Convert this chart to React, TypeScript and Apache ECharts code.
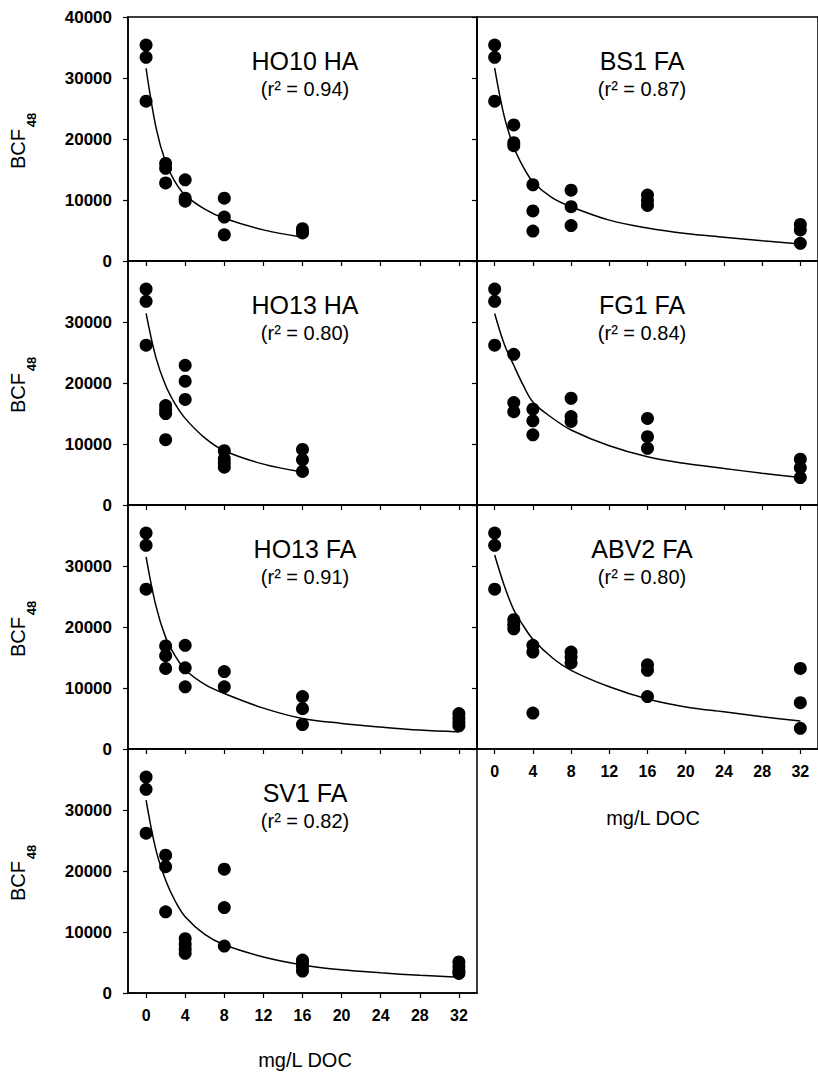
import React, { useEffect, useRef } from "react";
import * as echarts from "echarts";

// ---------- data ----------
const docTicks = [0, 4, 8, 12, 16, 20, 24, 28, 32];
const curveXShort = [0, 1, 2, 3, 4, 6, 8, 12, 16];
const curveXLong = [0, 1, 2, 3, 4, 6, 8, 12, 16, 20, 24, 28, 32];
const control = [35400, 33400, 26200];

// measured BCF48 values per DOC level: [doc, values...]
const ho10haPts: [number, number[]][] = [
  [0, control], [2, [16000, 15200, 12800]], [4, [13300, 10300, 9800]],
  [8, [10300, 7200, 4300]], [16, [5300, 4800, 4600]],
];
const bs1faPts: [number, number[]][] = [
  [0, control], [2, [22300, 19400, 18900]], [4, [12500, 8200, 4900]],
  [8, [11600, 8900, 5800]], [16, [10800, 9900, 9100]], [32, [6000, 5100, 2900]],
];
const ho13haPts: [number, number[]][] = [
  [0, control], [2, [16300, 15600, 15000, 10700]], [4, [22900, 20300, 17300]],
  [8, [8900, 7600, 6900, 6200]], [16, [9100, 7400, 5500]],
];
const fg1faPts: [number, number[]][] = [
  [0, control], [2, [24700, 16800, 15300]], [4, [15700, 13800, 11500]],
  [8, [17500, 14500, 13700]], [16, [14200, 11200, 9300]], [32, [7500, 6100, 4500]],
];
const ho13faPts: [number, number[]][] = [
  [0, control], [2, [16900, 15300, 13200]], [4, [17000, 13300, 10200]],
  [8, [12700, 10200]], [16, [8600, 6600, 4000]], [32, [5800, 5100, 4400, 3800]],
];
const abv2faPts: [number, number[]][] = [
  [0, control], [2, [21200, 20400, 19700]], [4, [17000, 15900, 5900]],
  [8, [15900, 15100, 14100]], [16, [13800, 12900, 8600]], [32, [13200, 7600, 3400]],
];
const sv1faPts: [number, number[]][] = [
  [0, control], [2, [22600, 20700, 13300]], [4, [8900, 8000, 7200, 6500]],
  [8, [20300, 14000, 7700]], [16, [5400, 4900, 4300, 3600]], [32, [5100, 4300, 3600, 3200]],
];

// fitted curves
const ho10haCurve = [31600, 22000, 16200, 12900, 10800, 8500, 7000, 5100, 3900];
const ho13haCurve = [31400, 24200, 19600, 16500, 14200, 11000, 8900, 6700, 5400];
const bs1faCurve = [31600, 23700, 18700, 15400, 13000, 10400, 8900, 6700, 5400, 4500, 3900, 3300, 2800];
const fg1faCurve = [31400, 26400, 22900, 19600, 16900, 14300, 12300, 9700, 7900, 6800, 6000, 5200, 4500];
const ho13faCurve = [31500, 23500, 18300, 15200, 13000, 10600, 9100, 6700, 5000, 4200, 3600, 3100, 2800];
const abv2faCurve = [31800, 26800, 22800, 20200, 18000, 15000, 12900, 10200, 8200, 6900, 6100, 5300, 4600];
const sv1faCurve = [31600, 23500, 18500, 15000, 12500, 9600, 7900, 5900, 4600, 3800, 3300, 2900, 2600];

const panels = [
  { title: "HO10 HA", r2: "0.94", row: 0, col: 0, pts: ho10haPts, cx: curveXShort, cy: ho10haCurve, xLabels: false },
  { title: "BS1 FA", r2: "0.87", row: 0, col: 1, pts: bs1faPts, cx: curveXLong, cy: bs1faCurve, xLabels: false },
  { title: "HO13 HA", r2: "0.80", row: 1, col: 0, pts: ho13haPts, cx: curveXShort, cy: ho13haCurve, xLabels: false },
  { title: "FG1 FA", r2: "0.84", row: 1, col: 1, pts: fg1faPts, cx: curveXLong, cy: fg1faCurve, xLabels: false },
  { title: "HO13 FA", r2: "0.91", row: 2, col: 0, pts: ho13faPts, cx: curveXLong, cy: ho13faCurve, xLabels: false },
  { title: "ABV2 FA", r2: "0.80", row: 2, col: 1, pts: abv2faPts, cx: curveXLong, cy: abv2faCurve, xLabels: true },
  { title: "SV1 FA", r2: "0.82", row: 3, col: 0, pts: sv1faPts, cx: curveXLong, cy: sv1faCurve, xLabels: true },
];

const FONT = "'Liberation Sans', Arial, Helvetica, sans-serif";

export default function App() {
  const ref = useRef<HTMLDivElement>(null);
  useEffect(() => {
    if (!ref.current) return;
    const chart = echarts.init(ref.current, null, { renderer: "svg" });
    const rowTop = 17;
    const rowH = 244;
    const colLeft = [128, 477];
    const colW = 349;
    const grids: any[] = [];
    const xAxes: any[] = [];
    const yAxes: any[] = [];
    const series: any[] = [];
    const graphic: any[] = [];
    panels.forEach((p, i) => {
      grids.push({
        left: colLeft[p.col], top: rowTop + rowH * p.row, width: colW, height: rowH,
        show: true, borderColor: "#000", borderWidth: 1.5, backgroundColor: "transparent",
      });
      xAxes.push({
        type: "value", gridIndex: i, min: -1.85, max: 33.85,
        axisLine: { show: true, onZero: false, lineStyle: { color: "#000", width: 1.5 } },
        axisTick: { show: true, length: 5, inside: false, customValues: docTicks, lineStyle: { color: "#000", width: 1.2 } },
        axisLabel: {
          show: p.xLabels, customValues: docTicks, margin: 14, color: "#000",
          fontSize: 16, fontWeight: "bold", fontFamily: FONT,
        },
        splitLine: { show: false },
      });
      yAxes.push({
        type: "value", gridIndex: i, min: 0, max: 40000, interval: 10000,
        axisLine: { show: true, onZero: false, lineStyle: { color: "#000", width: 1.5 } },
        axisTick: { show: true, length: 5, inside: false, lineStyle: { color: "#000", width: 1.2 } },
        axisLabel: {
          show: p.col === 0, showMaxLabel: p.row === 0, margin: 16, color: "#000",
          fontSize: 17, fontWeight: "bold", fontFamily: FONT,
          formatter: (v: number) => String(v),
        },
        splitLine: { show: false },
      });
      const scatterData: number[][] = [];
      p.pts.forEach(([x, vals]) => vals.forEach((v) => scatterData.push([x, v])));
      series.push({
        type: "scatter", xAxisIndex: i, yAxisIndex: i, data: scatterData,
        symbol: "circle", symbolSize: 13, itemStyle: { color: "#000", opacity: 1 }, z: 3,
      });
      series.push({
        type: "line", xAxisIndex: i, yAxisIndex: i,
        data: p.cx.map((x, k) => [x, p.cy[k]]),
        smooth: 0.35, symbol: "none", showSymbol: false,
        lineStyle: { color: "#000", width: 1.5 }, z: 2,
      });
      const cxText = p.col === 0 ? 305 : 642;
      const top = rowTop + rowH * p.row;
      graphic.push({
        type: "text", x: cxText, y: top + 44,
        style: { text: p.title, fontSize: 25, fontFamily: FONT, fill: "#000", textAlign: "center", textVerticalAlign: "middle" },
      });
      graphic.push({
        type: "text", x: cxText, y: top + 72,
        style: { text: "(r\u00B2 = " + p.r2 + ")", fontSize: 20, fontFamily: FONT, fill: "#000", textAlign: "center", textVerticalAlign: "middle" },
      });
      if (p.col === 0) {
        graphic.push({
          type: "text", x: 18, y: top + 132, rotation: Math.PI / 2,
          style: { text: "BCF", fontSize: 20, fontFamily: FONT, fill: "#000", textAlign: "center", textVerticalAlign: "middle" },
        });
        graphic.push({
          type: "text", x: 31, y: top + 103, rotation: Math.PI / 2,
          style: { text: "48", fontSize: 13, fontWeight: "bold", fontFamily: FONT, fill: "#000", textAlign: "center", textVerticalAlign: "middle" },
        });
      }
    });
    graphic.push({
      type: "text", x: 305, y: 1060,
      style: { text: "mg/L DOC", fontSize: 20, fontFamily: FONT, fill: "#000", textAlign: "center", textVerticalAlign: "middle" },
    });
    graphic.push({
      type: "text", x: 653, y: 818,
      style: { text: "mg/L DOC", fontSize: 20, fontFamily: FONT, fill: "#000", textAlign: "center", textVerticalAlign: "middle" },
    });
    chart.setOption({
      animation: false,
      backgroundColor: "#fff",
      grid: grids,
      xAxis: xAxes,
      yAxis: yAxes,
      series,
      graphic,
    });
    return () => chart.dispose();
  }, []);
  return <div ref={ref} style={{ position: "absolute", left: 0, top: 0, width: 818, height: 1073 }} />;
}
